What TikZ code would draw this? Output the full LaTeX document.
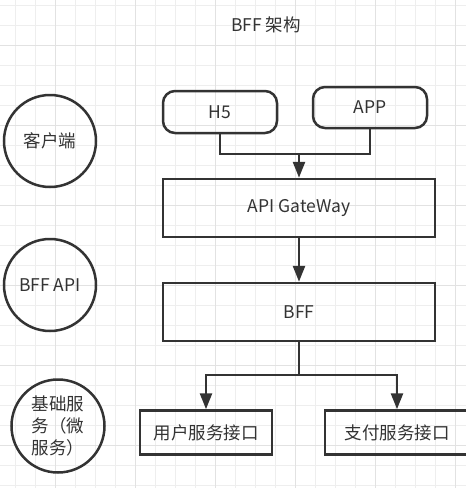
\documentclass[tikz,border=0pt]{standalone}
\usepackage{fontspec}
\setmainfont{Noto Sans CJK SC}
\usetikzlibrary{arrows.meta}
\definecolor{ink}{HTML}{333333}
\definecolor{gridlo}{HTML}{EEEEEE}
\definecolor{gridhi}{HTML}{E2E2E2}
\begin{document}
\begin{tikzpicture}[x=1pt,y=-1pt,
  font=\fontsize{17.5}{22}\selectfont, text=ink,
  layer/.style={draw=ink,line width=2.5pt,circle,minimum size=92pt,inner sep=0pt},
  pill/.style={draw=ink,line width=2.5pt,rectangle,rounded corners=12pt,minimum width=114pt,minimum height=42pt},
  box/.style={draw=ink,line width=2.5pt,rectangle,minimum width=272pt,minimum height=58pt},
  svc/.style={draw=ink,line width=2.5pt,rectangle,minimum height=44pt},
  wire/.style={draw=ink,line width=2.5pt},
  arr/.style={wire,-{Triangle[width=12pt,length=16pt]}}]
\useasboundingbox (0,0) rectangle (466,488);
\fill[white] (0,0) rectangle (466,488);
\begin{scope}[xshift=15pt,yshift=-5pt]
\draw[gridlo,line width=0.8pt,step=20pt] (-15,-5) grid (451,483);
\end{scope}
\begin{scope}[xshift=55pt,yshift=-45pt]
\draw[gridhi,line width=0.9pt,step=80pt] (-55,-45) grid (411,443);
\end{scope}
\node (title) at (266,25){BFF 架构};
\node[layer] (client) at (50,141){客户端};
\node[layer] (bffapi) at (50,285){BFF API};
\node[layer,minimum size=93pt,align=left] (base) at (58,426){基础服\\务（微\\服务）};
\node[pill] (h5) at (220,112){H5};
\node[pill,minimum height=41pt] (app) at (370,107.5){APP};
\node[box] (gw) at (299,208){API GateWay};
\node[box] (bff) at (299,312){BFF};
\node[svc,minimum width=132pt] (user) at (206,432.5){用户服务接口};
\node[svc,minimum width=144pt] (pay) at (397,432.5){支付服务接口};
\coordinate (join) at (299,154);\coordinate (split) at (299,375);
\draw[wire] (h5.south) |- (join);\draw[wire] (app.south) |- (join);\draw[arr] (join)--(gw.north);
\draw[arr] (gw.south)--(bff.north);
\draw[wire] (bff.south)--(split);\draw[arr] (split) -| (user.north);\draw[arr] (split) -| (pay.north);
\end{tikzpicture}
\end{document}
